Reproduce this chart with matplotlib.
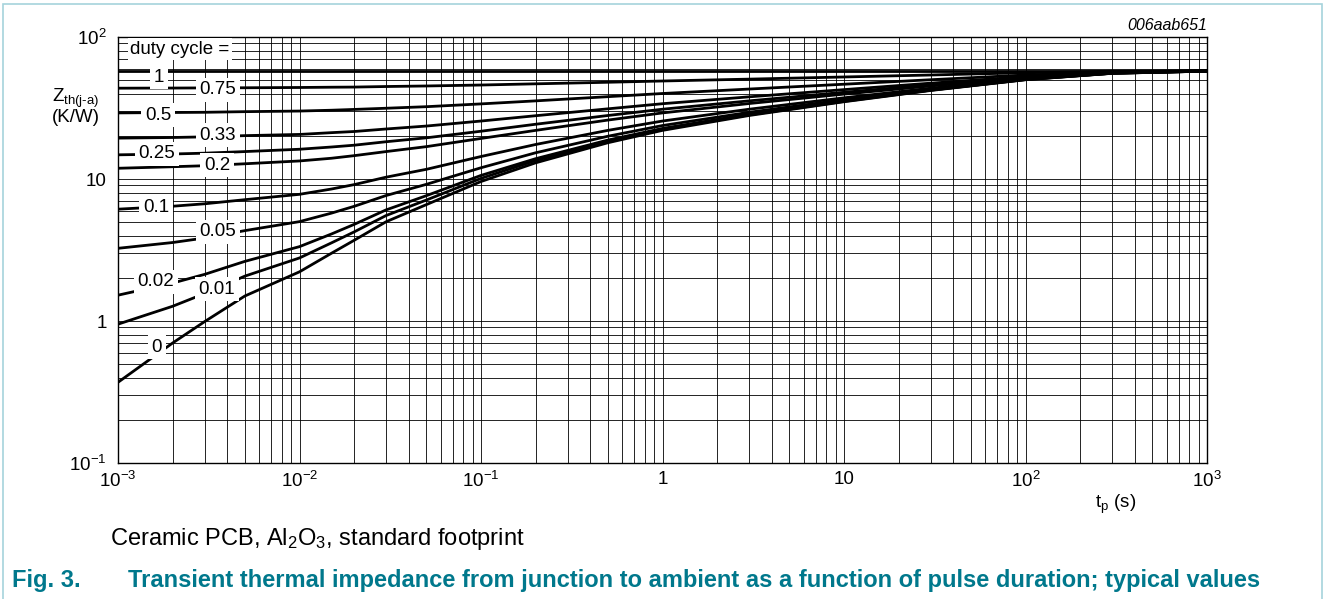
import matplotlib
matplotlib.use('Agg')
import matplotlib.pyplot as plt
from matplotlib.patches import Rectangle

plt.rcParams['font.family'] = ['Liberation Sans', 'DejaVu Sans']
plt.rcParams['mathtext.default'] = 'regular'

# pulse duration tp (s)
tp = [1e-3, 2e-3, 3e-3, 5e-3, 1e-2, 1.5e-2, 2e-2, 3e-2, 5e-2, 0.1, 0.2, 0.5,
      1, 3, 10, 30, 100, 300, 1000]

# Zth(j-a) in K/W, one list per duty cycle
z_1    = [58.0, 58.0, 58.0, 58.0, 58.0, 58.0, 58.0, 58.0, 58.0, 58.0, 58.0, 58.0, 58.0, 58.0, 58.0, 58.0, 58.0, 58.0, 58.0]
z_075  = [43.6, 43.7, 43.8, 43.9, 44.1, 44.3, 44.4, 44.8, 45.2, 45.9, 46.8, 48.0, 49.0, 50.5, 52.3, 54.0, 56.0, 57.4, 57.9]
z_05   = [29.2, 29.4, 29.5, 29.8, 30.1, 30.5, 30.9, 31.5, 32.3, 33.8, 35.5, 38.0, 40.0, 43.0, 46.5, 50.0, 54.0, 56.8, 57.8]
z_033  = [19.4, 19.6, 19.8, 20.2, 20.6, 21.2, 21.6, 22.5, 23.6, 25.6, 27.9, 31.2, 33.9, 37.9, 42.6, 47.3, 52.6, 56.3, 57.7]
z_025  = [14.8, 15.0, 15.2, 15.6, 16.2, 16.8, 17.3, 18.3, 19.5, 21.7, 24.3, 28.0, 31.0, 35.5, 40.8, 46.0, 52.0, 56.1, 57.6]
z_02   = [11.9, 12.2, 12.4, 12.8, 13.4, 14.0, 14.6, 15.6, 16.9, 19.3, 22.0, 26.0, 29.2, 34.0, 39.6, 45.2, 51.6, 56.0, 57.6]
z_01   = [6.13, 6.43, 6.69, 7.15, 7.80, 8.50, 9.13, 10.3, 11.7, 14.4, 17.5, 22.0, 25.6, 31.0, 37.3, 43.6, 50.8, 55.8, 57.6]
z_005  = [3.25, 3.57, 3.84, 4.33, 5.01, 5.75, 6.42, 7.65, 9.17, 12.0, 15.3, 20.0, 23.8, 29.5, 36.2, 42.8, 50.4, 55.6, 57.5]
z_002  = [1.52, 1.85, 2.13, 2.63, 3.34, 4.10, 4.79, 6.06, 7.63, 10.6, 13.9, 18.8, 22.7, 28.6, 35.5, 42.3, 50.2, 55.6, 57.5]
z_001  = [0.95, 1.27, 1.56, 2.07, 2.78, 3.55, 4.24, 5.53, 7.11, 10.1, 13.5, 18.4, 22.4, 28.3, 35.2, 42.2, 50.1, 55.5, 57.5]
z_0    = [0.37, 0.70, 0.99, 1.50, 2.22, 3.00, 3.70, 5.00, 6.60, 9.60, 13.0, 18.0, 22.0, 28.0, 35.0, 42.0, 50.0, 55.5, 57.5]

curves = [z_1, z_075, z_05, z_033, z_025, z_02, z_01, z_005, z_002, z_001, z_0]
duty_labels = ['1', '0.75', '0.5', '0.33', '0.25', '0.2', '0.1', '0.05', '0.02', '0.01', '0']

x_ticks = [1e-3, 1e-2, 1e-1, 1, 10, 100, 1000]
x_ticklabels = ['$10^{-3}$', '$10^{-2}$', '$10^{-1}$', '1', '10', '$10^{2}$', '$10^{3}$']
y_ticks = [0.1, 1, 10, 100]
y_ticklabels = ['$10^{-1}$', '1', '10', '$10^{2}$']

W, H = 1325, 599
fig = plt.figure(figsize=(W / 100, H / 100), dpi=100)
ax = fig.add_axes([118 / W, 1 - 463 / H, (1207 - 118) / W, (463 - 37) / H])

for z in curves:
    ax.plot(tp, z, color='black', lw=2.0, solid_capstyle='butt', zorder=3)

ax.set_xscale('log')
ax.set_yscale('log')
ax.set_xlim(1e-3, 1e3)
ax.set_ylim(0.1, 100)
ax.set_xticks(x_ticks)
ax.set_xticklabels(x_ticklabels)
ax.set_yticks(y_ticks)
ax.set_yticklabels(y_ticklabels)
ax.tick_params(which='both', length=0, labelsize=13.5)
ax.tick_params(axis='x', pad=6)
ax.tick_params(axis='y', pad=8)
ax.grid(which='both', color='black', lw=0.6)
ax.set_axisbelow(True)
for s in ax.spines.values():
    s.set_linewidth(1.0)

# curve labels (pixel positions of the label centres)
label_px = [(159, 77), (218, 90), (158, 115), (218, 135), (157, 154), (217, 165),
            (156, 208), (218, 232), (156, 282), (217, 289), (157, 347)]

def to_axes(px, py):
    return (px - 118) / (1207 - 118), (463 - py) / (463 - 37)

box = dict(facecolor='white', edgecolor='none', pad=2.5)
for lab, (px, py) in zip(duty_labels, label_px):
    fx, fy = to_axes(px, py)
    ax.text(fx, fy, lab, transform=ax.transAxes, ha='center', va='center',
            fontsize=13.5, bbox=box, zorder=5)

fx, fy = to_axes(180, 49)
ax.text(fx, fy, 'duty cycle =', transform=ax.transAxes, ha='center', va='center',
        fontsize=13.5, bbox=dict(facecolor='white', edgecolor='none', pad=1.5), zorder=5)

# axis titles
fig.text(76 / W, 1 - 98 / H, 'Z$_{th(j\u2010a)}$', ha='center', va='center', fontsize=13.5)
fig.text(76 / W, 1 - 118 / H, '(K/W)', ha='center', va='center', fontsize=13.5)
fig.text(1116 / W, 1 - 504 / H, 't$_{p}$ (s)', ha='center', va='center', fontsize=13.5)
fig.text(1207 / W, 1 - 25 / H, '006aab651', ha='right', va='center', fontsize=11.5,
         style='italic')

# captions
fig.text(110 / W, 1 - 539 / H, 'Ceramic PCB, Al$_{2}$O$_{3}$, standard footprint',
         ha='left', va='center', fontsize=17)
fig.text(12 / W, 1 - 581 / H, 'Fig. 3.', ha='left', va='center', fontsize=17,
         fontweight='bold', color='#00788c')
fig.text(128 / W, 1 - 581 / H,
         'Transient thermal impedance from junction to ambient as a function of pulse duration; typical values',
         ha='left', va='center', fontsize=17, fontweight='bold', color='#00788c')

# light blue frame around the figure
fig.patches.append(Rectangle((3 / W, -0.1), (1322 - 3) / W, 1.1 - 4 / H,
                             transform=fig.transFigure, fill=False,
                             edgecolor='#a6d3dc', lw=1.2))

fig.savefig('out.png', dpi=100)
